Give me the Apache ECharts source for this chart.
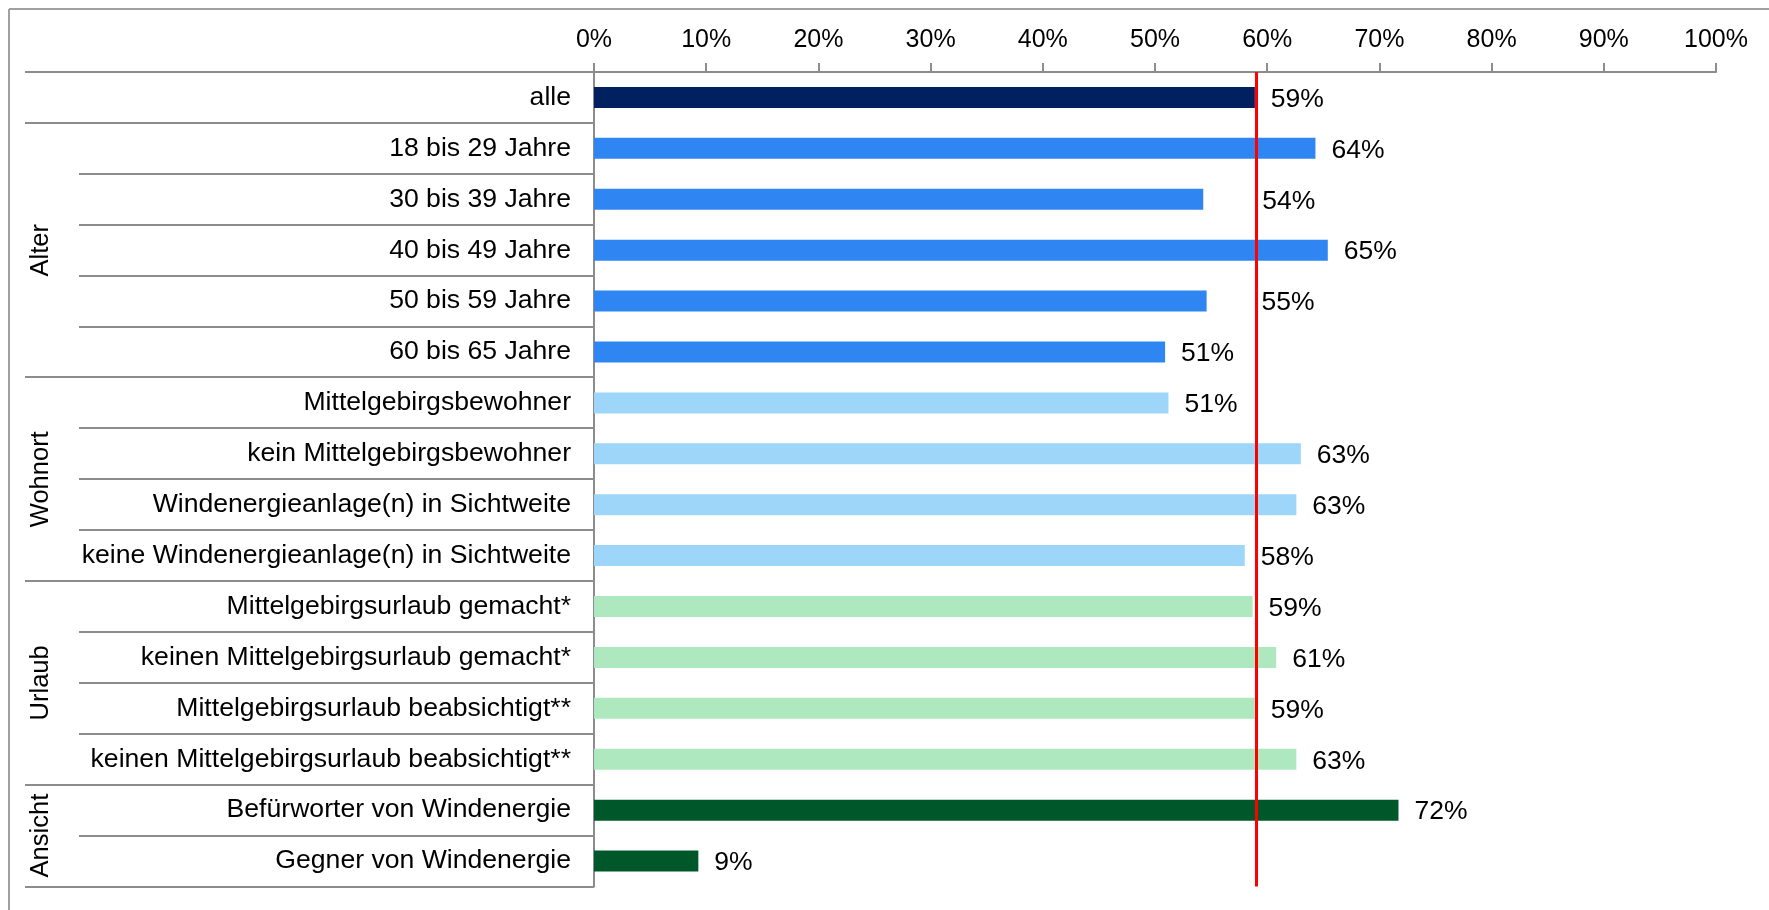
<!DOCTYPE html>
<html><head><meta charset="utf-8">
<script src="https://cdn.jsdelivr.net/npm/echarts@6/dist/echarts.min.js"></script>
<style>html,body{margin:0;padding:0;background:#fff}#c{width:1769px;height:910px}</style>
</head><body><div id="c"></div>
<script>
// ---- data ----
const categories = [
  'alle',
  '18 bis 29 Jahre', '30 bis 39 Jahre', '40 bis 49 Jahre', '50 bis 59 Jahre', '60 bis 65 Jahre',
  'Mittelgebirgsbewohner', 'kein Mittelgebirgsbewohner', 'Windenergieanlage(n) in Sichtweite', 'keine Windenergieanlage(n) in Sichtweite',
  'Mittelgebirgsurlaub gemacht*', 'keinen Mittelgebirgsurlaub gemacht*', 'Mittelgebirgsurlaub beabsichtigt**', 'keinen Mittelgebirgsurlaub beabsichtigt**',
  'Befürworter von Windenergie', 'Gegner von Windenergie'
];
const values = [58.9, 64.3, 54.3, 65.4, 54.6, 50.9, 51.2, 63.0, 62.6, 58.0, 58.7, 60.8, 58.9, 62.6, 71.7, 9.3];
const groupNames = ['', 'Alter', 'Wohnort', 'Urlaub', 'Ansicht'];
const groupSizes = [1, 5, 4, 4, 2];
const referenceValue = 59;

// ---- style ----
const groupColors = ['#00205F', '#2F86F2', '#9DD6F9', '#AEE8BE', '#00572A'];
const labelNudge = {2: 43, 4: 39};
const FONT = '"Liberation Sans", Arial, sans-serif';
const GRAY = '#8c8c8c';

const groupOf = [];
groupSizes.forEach((n, g) => { for (let k = 0; k < n; k++) groupOf.push(g); });

const chart = echarts.init(document.getElementById('c'), null, {renderer: 'canvas'});
chart.setOption({
  animation: false,
  grid: {left: 594, top: 72, width: 1122, height: 814.5},
  xAxis: {
    type: 'value', position: 'top', min: 0, max: 100, interval: 10,
    axisLine: {show: true, lineStyle: {color: GRAY, width: 2}},
    axisTick: {show: true, length: 9, lineStyle: {color: GRAY, width: 2}},
    axisLabel: {formatter: '{value}%', color: '#000', fontFamily: FONT, fontSize: 25, margin: 19},
    splitLine: {show: false}
  },
  yAxis: {
    type: 'category', inverse: true, data: categories,
    axisLine: {show: true, lineStyle: {color: GRAY, width: 2}},
    axisTick: {show: false},
    axisLabel: {color: '#000', fontFamily: FONT, fontSize: 26.6, margin: 23},
    splitLine: {show: false}
  },
  series: [{
    type: 'bar', barWidth: 21,
    data: values.map((v, i) => {
      const d = {value: v, itemStyle: {color: groupColors[groupOf[i]]}};
      if (labelNudge[i]) d.label = {offset: [labelNudge[i], 2]};
      return d;
    }),
    label: {show: true, position: 'right', distance: 16, offset: [0, 2], color: '#000', fontFamily: FONT, fontSize: 26.5,
      formatter: p => Math.round(p.value) + '%'},
    markLine: {silent: true, symbol: 'none', label: {show: false}, animation: false,
      lineStyle: {color: '#ff0000', width: 3, type: 'solid'},
      data: [{xAxis: referenceValue}]}
  }]
});

// ---- separators & group labels, positioned through the category axis ----
const yAt = i => chart.convertToPixel({yAxisIndex: 0}, i);
const band = yAt(1) - yAt(0);
const boundary = k => yAt(0) - band / 2 + k * band;
const axisX = chart.convertToPixel({xAxisIndex: 0}, 0);
const graphics = [];
const OUTER_X = 25, INNER_X = 79;
const groupStart = [];
let acc = 0;
groupSizes.forEach(n => { groupStart.push(acc); acc += n; });
for (let k = 0; k <= categories.length; k++) {
  const isGroupEdge = k === 0 || k === categories.length || groupStart.includes(k);
  const y = Math.round(boundary(k));
  graphics.push({type: 'line', z: 1, shape: {x1: isGroupEdge ? OUTER_X : INNER_X, y1: y, x2: axisX, y2: y},
    style: {stroke: GRAY, lineWidth: 2}});
}
groupNames.forEach((name, g) => {
  if (!name) return;
  const yc = (boundary(groupStart[g]) + boundary(groupStart[g] + groupSizes[g])) / 2;
  graphics.push({type: 'text', x: 41, y: yc, rotation: Math.PI / 2,
    style: {text: name, fontSize: 25.5, fontFamily: FONT, fill: '#000', align: 'center', verticalAlign: 'middle'}});
});
// outer frame (top and left)
graphics.push({type: 'line', shape: {x1: 9, y1: 9, x2: 1769, y2: 9}, style: {stroke: '#a0a0a0', lineWidth: 2}});
graphics.push({type: 'line', shape: {x1: 9, y1: 9, x2: 9, y2: 910}, style: {stroke: '#a0a0a0', lineWidth: 2}});
chart.setOption({graphic: graphics});
</script>
</body></html>
